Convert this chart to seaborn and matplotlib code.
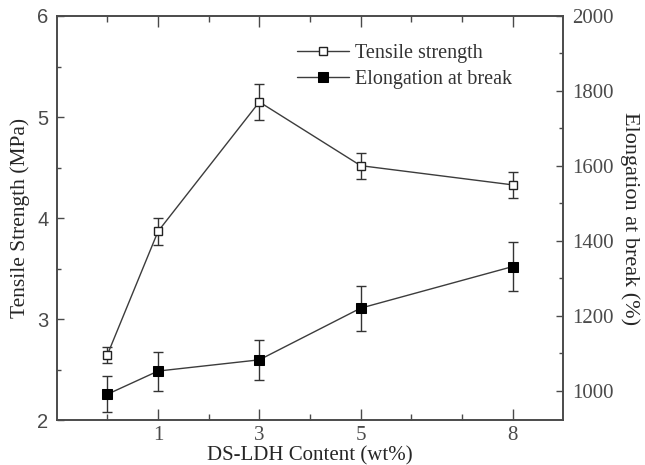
import matplotlib
matplotlib.use("Agg")
import matplotlib.pyplot as plt
from matplotlib.ticker import FixedLocator, MultipleLocator, NullFormatter
import pandas as pd
import seaborn as sns

# DS-LDH loading (wt%)
content = [0, 1, 3, 5, 8]
# Tensile strength (MPa) and its standard deviation
tensile = [2.65, 3.87, 5.15, 4.52, 4.33]
tensile_err = [0.08, 0.13, 0.18, 0.13, 0.13]
# Elongation at break (%) and its standard deviation
elongation = [990, 1052, 1082, 1220, 1331]
elongation_err = [48, 52, 53, 60, 66]

x_major = [1, 3, 5, 8]
x_minor = [0, 2, 4, 6, 7]

sns.set_theme(style="white")
plt.rcParams["font.family"] = ["Liberation Serif", "DejaVu Serif"]
plt.rcParams["axes.edgecolor"] = "#4a4a4a"
plt.rcParams["text.color"] = "#333333"
plt.rcParams["xtick.color"] = "#4a4a4a"
plt.rcParams["ytick.color"] = "#4a4a4a"

df = pd.DataFrame({"content": content, "tensile": tensile, "tensile_err": tensile_err,
                   "elongation": elongation, "elongation_err": elongation_err})

fig = plt.figure(figsize=(6.45, 4.65), dpi=100)
ax = fig.add_axes([0.0879, 0.0957, 0.7855, 0.8699])
ax2 = ax.twinx()

line_col = "#3c3c3c"

# Tensile strength: open squares on the left axis
sns.lineplot(data=df, x="content", y="tensile", ax=ax, color=line_col, lw=1.0,
             marker="s", markersize=5.5, markerfacecolor="white", markeredgecolor="#222222",
             markeredgewidth=1.0, label="Tensile strength", legend=False, zorder=3)
ax.errorbar(df["content"], df["tensile"], yerr=df["tensile_err"], fmt="none",
            ecolor="#333333", elinewidth=1.0, capsize=3.5, capthick=1.0, zorder=2)

# Elongation at break: filled squares on the right axis
sns.lineplot(data=df, x="content", y="elongation", ax=ax2, color=line_col, lw=1.0,
             marker="s", markersize=6.5, markerfacecolor="black", markeredgecolor="black",
             label="Elongation at break", legend=False, zorder=3)
ax2.errorbar(df["content"], df["elongation"], yerr=df["elongation_err"], fmt="none",
             ecolor="#333333", elinewidth=1.0, capsize=3.5, capthick=1.0, zorder=2)

# Axis limits
ax.set_xlim(-1, 9)
ax.set_ylim(2, 6)
ax2.set_ylim(920, 2000)

# X ticks: labelled majors, unlabelled minors, drawn on bottom and top
ax.xaxis.set_major_locator(FixedLocator(x_major))
ax.xaxis.set_minor_locator(FixedLocator(x_minor))
ax.set_xticklabels([str(v) for v in x_major])
ax.tick_params(axis="x", which="major", direction="in", length=8, width=1.0,
               top=True, bottom=True, pad=4, labelsize=15)
ax.tick_params(axis="x", which="minor", direction="in", length=4, width=1.0,
               top=True, bottom=True)

# Left y ticks
ax.yaxis.set_major_locator(MultipleLocator(1))
ax.yaxis.set_minor_locator(MultipleLocator(0.5))
ax.tick_params(axis="y", which="major", direction="in", length=5, width=1.0,
               left=True, right=False, pad=6, labelsize=14.5)
ax.tick_params(axis="y", which="minor", direction="in", length=3, width=1.0,
               left=True, right=False)
for lab in ax.get_yticklabels():
    lab.set_family(["Liberation Sans", "DejaVu Sans"])

# Right y ticks
ax2.yaxis.set_major_locator(MultipleLocator(200))
ax2.yaxis.set_minor_locator(MultipleLocator(100))
ax2.yaxis.set_minor_formatter(NullFormatter())
ax2.tick_params(axis="y", which="major", direction="in", length=5, width=1.0,
                right=True, left=False, pad=6, labelsize=15)
ax2.tick_params(axis="y", which="minor", direction="in", length=3, width=1.0,
                right=True, left=False)

for a in (ax, ax2):
    for sp in a.spines.values():
        sp.set_linewidth(1.2)
        sp.set_color("#4a4a4a")

ax.set_xlabel("DS-LDH Content (wt%)", fontsize=15, labelpad=1)
ax.set_ylabel("Tensile Strength (MPa)", fontsize=15.5, labelpad=5)
ax2.set_ylabel("Elongation at break (%)", fontsize=16, rotation=270, labelpad=19)

# Combined legend
h1, l1 = ax.get_legend_handles_labels()
h2, l2 = ax2.get_legend_handles_labels()
ax.legend(h1 + h2, l1 + l2, loc="upper left", bbox_to_anchor=(0.438, 0.935),
          bbox_transform=fig.transFigure, frameon=False, fontsize=14.5,
          handlelength=2.6, handletextpad=0.3, labelspacing=0.3, borderpad=0.2)

fig.savefig("out.png", dpi=100)
